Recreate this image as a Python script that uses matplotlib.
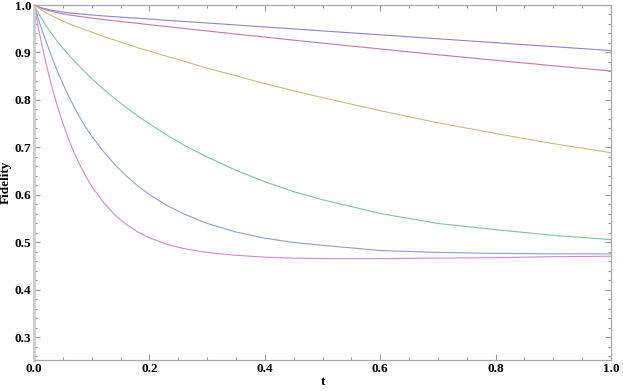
import matplotlib
matplotlib.use("Agg")
import matplotlib.pyplot as plt
from matplotlib.ticker import MultipleLocator, FormatStrFormatter

t = [0, 0.01, 0.02, 0.03, 0.04, 0.05, 0.06, 0.07, 0.08, 0.09, 0.10, 0.12, 0.14,
     0.16, 0.18, 0.20, 0.23, 0.26, 0.30, 0.35, 0.40, 0.45, 0.50, 0.60, 0.70,
     0.80, 0.90, 1.0]

f1 = [1.0, 0.995, 0.992, 0.989, 0.987, 0.985, 0.9836, 0.9823, 0.9812, 0.980,
      0.979, 0.977, 0.9754, 0.9737, 0.972, 0.9704, 0.9679, 0.9654, 0.9621,
      0.958, 0.9538, 0.9497, 0.9455, 0.9372, 0.9289, 0.9206, 0.9123, 0.904]
f2 = [1.0, 0.9945, 0.990, 0.9867, 0.9839, 0.9814, 0.9793, 0.9775, 0.9758,
      0.9741, 0.9725, 0.9694, 0.9667, 0.964, 0.9613, 0.9586, 0.9546, 0.9506,
      0.9454, 0.9388, 0.9324, 0.926, 0.9198, 0.9074, 0.8953, 0.8836, 0.8721,
      0.861]
f3 = [1.0, 0.992, 0.984, 0.978, 0.972, 0.966, 0.961, 0.956, 0.952, 0.947,
      0.943, 0.934, 0.926, 0.918, 0.910, 0.903, 0.892, 0.8815, 0.867, 0.851,
      0.8345, 0.8195, 0.805, 0.7775, 0.752, 0.7295, 0.708, 0.689]
f4 = [1.0, 0.978, 0.958, 0.941, 0.924, 0.909, 0.895, 0.882, 0.869, 0.857,
      0.845, 0.823, 0.803, 0.784, 0.766, 0.750, 0.726, 0.705, 0.680, 0.652,
      0.628, 0.607, 0.590, 0.561, 0.540, 0.527, 0.515, 0.506]
f5 = [1.0, 0.961, 0.926, 0.893, 0.862, 0.834, 0.808, 0.784, 0.762, 0.742,
      0.724, 0.692, 0.664, 0.640, 0.619, 0.601, 0.578, 0.560, 0.540, 0.522,
      0.509, 0.500, 0.494, 0.483, 0.479, 0.477, 0.476, 0.476]
f6 = [1.0, 0.937, 0.881, 0.832, 0.789, 0.751, 0.717, 0.688, 0.662, 0.639,
      0.618, 0.585, 0.558, 0.538, 0.522, 0.510, 0.496, 0.487, 0.479, 0.473,
      0.469, 0.467, 0.466, 0.466, 0.467, 0.468, 0.470, 0.471]

series = [f1, f2, f3, f4, f5, f6]
colors = ["#8a85c8", "#c07aa0", "#c8bc80", "#80c498", "#8aa0d0", "#d088d0"]

x_ticks = [0.0, 0.2, 0.4, 0.6, 0.8, 1.0]
y_ticks = [0.3, 0.4, 0.5, 0.6, 0.7, 0.8, 0.9, 1.0]

fig = plt.figure(figsize=(6.23, 3.91), dpi=100)
ax = fig.add_axes([34/623, 31/391, 577/623, 355/391])

for ys, c in zip(series, colors):
    ax.plot(t, ys, color=c, lw=0.8, solid_joinstyle="round")

ax.set_xlim(0, 1.0)
ax.set_ylim(0.2525, 1.0)
ax.set_xticks(x_ticks)
ax.set_yticks(y_ticks)
ax.xaxis.set_minor_locator(MultipleLocator(0.05))
ax.yaxis.set_minor_locator(MultipleLocator(0.02))
ax.xaxis.set_major_formatter(FormatStrFormatter("%.1f"))
ax.yaxis.set_major_formatter(FormatStrFormatter("%.1f"))

font = {"family": "Liberation Serif", "weight": "bold", "size": 9.5}
for lab in ax.get_xticklabels() + ax.get_yticklabels():
    lab.set_fontfamily("Liberation Serif")
    lab.set_fontweight("bold")
    lab.set_fontsize(9.5)

ax.tick_params(which="both", direction="in", top=True, right=True,
               color="#999999", width=0.8)
ax.tick_params(which="major", length=4, pad=2)
ax.tick_params(which="minor", length=2)

for s in ax.spines.values():
    s.set_color("#a8a8a8")
    s.set_linewidth(0.9)
ax.spines["left"].set_color("#cccccc")
ax.spines["left"].set_linewidth(2)

ax.set_ylabel("Fidelity", fontdict=font)
ax.yaxis.set_label_coords(-0.038, 0.5)
ax.set_xlabel("t", fontdict=font, labelpad=1)

fig.savefig("out.png", dpi=100)
